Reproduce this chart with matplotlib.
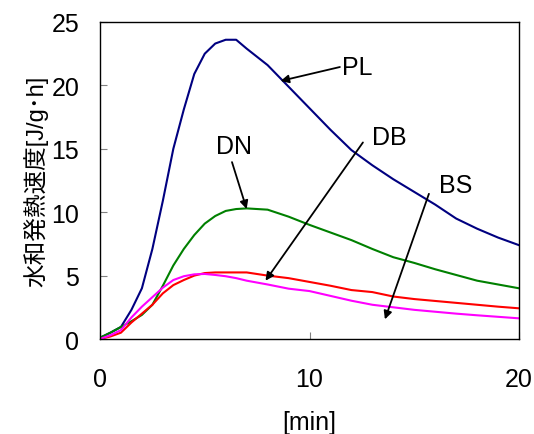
import matplotlib
matplotlib.use("Agg")
import matplotlib.pyplot as plt

plt.rcParams['font.family'] = ['Liberation Sans', 'Noto Sans CJK JP', 'DejaVu Sans']

# elapsed time [min]
time_min = [0, 0.5, 1, 1.5, 2, 2.5, 3, 3.5, 4, 4.5, 5, 5.5, 6, 6.5, 7,
            8, 9, 10, 11, 12, 13, 14, 15, 16, 17, 18, 19, 20]

# heat-of-hydration rate [J/g·h]
pl_rate = [0.1, 0.5, 0.95, 2.3, 4.0, 7.1, 10.9, 15.0, 18.1, 20.9, 22.5, 23.3, 23.6, 23.6, 22.9,
           21.6, 19.9, 18.2, 16.5, 14.9, 13.7, 12.6, 11.6, 10.6, 9.5, 8.7, 8.0, 7.4]
dn_rate = [0.1, 0.5, 0.95, 1.4, 1.9, 2.7, 4.2, 5.8, 7.1, 8.2, 9.1, 9.7, 10.1, 10.25, 10.3,
           10.2, 9.65, 9.0, 8.4, 7.8, 7.1, 6.45, 6.0, 5.5, 5.05, 4.6, 4.3, 4.0]
db_rate = [0.0, 0.2, 0.5, 1.3, 2.0, 2.7, 3.6, 4.25, 4.65, 5.0, 5.2, 5.25, 5.25, 5.25, 5.25,
           5.0, 4.8, 4.5, 4.2, 3.86, 3.7, 3.35, 3.15, 3.0, 2.85, 2.7, 2.55, 2.42]
bs_rate = [0.0, 0.3, 0.7, 1.7, 2.55, 3.3, 4.05, 4.65, 4.95, 5.1, 5.13, 5.05, 4.95, 4.8, 4.6,
           4.3, 3.97, 3.78, 3.4, 3.02, 2.7, 2.5, 2.3, 2.15, 2.0, 1.87, 1.75, 1.63]

series_names = ['PL', 'DN', 'DB', 'BS']
series_colors = ['#000080', '#008000', '#FF0000', '#FF00FF']

# label text position and arrow tip (data coordinates)
label_xy = [(12.3, 21.45), (6.4, 15.2), (13.8, 15.9), (17.0, 12.15)]
arrow_tail = [(11.45, 21.45), (6.3, 13.95), (12.55, 15.5), (15.7, 11.45)]
arrow_tip = [(8.62, 20.35), (7.0, 10.25), (7.9, 4.6), (13.6, 1.55)]

fig = plt.figure(figsize=(5.34, 4.35), dpi=100)
ax = fig.add_axes([100 / 534, 1 - 340 / 435, 419 / 534, 317 / 435])

for vals, c in zip([pl_rate, dn_rate, db_rate, bs_rate], series_colors):
    ax.plot(time_min, vals, color=c, lw=1.5, solid_joinstyle='round')

for name, lxy, tail, tip in zip(series_names, label_xy, arrow_tail, arrow_tip):
    ax.text(lxy[0], lxy[1], name, fontsize=18, ha='center', va='center')
    ax.annotate('', xy=tip, xytext=tail,
                arrowprops=dict(arrowstyle='-|>', color='black', lw=1.3,
                                mutation_scale=12, shrinkA=0, shrinkB=0))

ax.set_xlim(0, 20)
ax.set_ylim(0, 25)
ax.set_xticks([0, 10, 20])
ax.set_yticks([0, 5, 10, 15, 20, 25])
ax.tick_params(direction='in', length=5, color='#808080', labelsize=18)
ax.tick_params(axis='y', pad=15)
ax.tick_params(axis='x', pad=20)
for s in ax.spines.values():
    s.set_linewidth(1.0)
    s.set_color('black')

ax.set_xlabel('[min]', fontsize=18, labelpad=14)
ax.set_ylabel('水和発熱速度[J/g･h]', fontsize=17, labelpad=2)

fig.savefig('out.png', dpi=100)
